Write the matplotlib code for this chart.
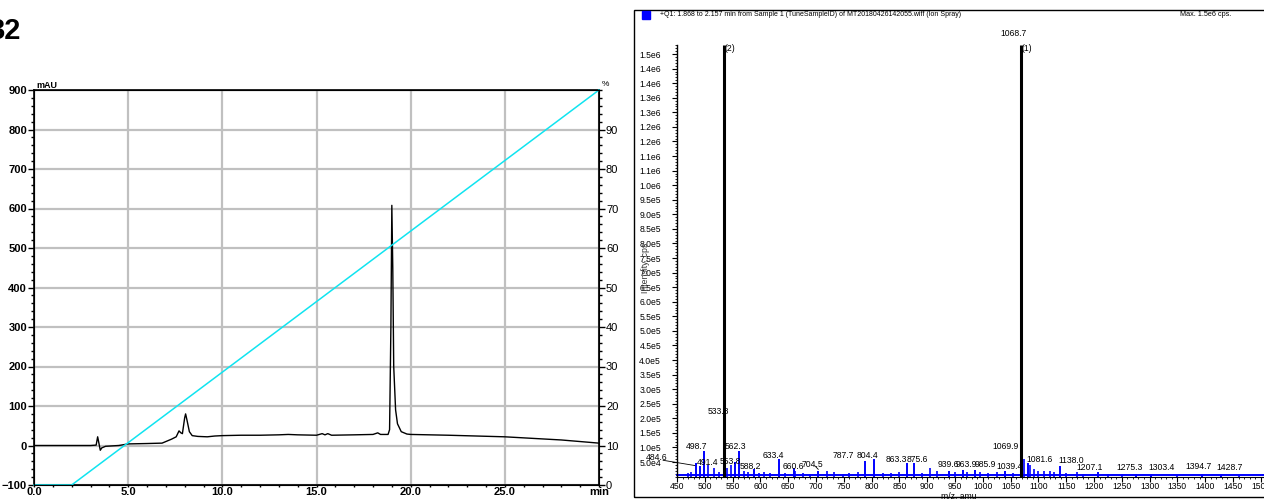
import math
import matplotlib
matplotlib.use("Agg")
import matplotlib.pyplot as plt
from matplotlib.patches import Rectangle
from matplotlib.ticker import MultipleLocator, FixedLocator, FuncFormatter

# --- HPLC trace (UV), time in min vs absorbance in mAU ---
trace_time = [0.0, 1.0, 2.0, 3.0, 3.3, 3.38, 3.45, 3.52, 3.6, 3.8, 4.5, 5.0, 6.0, 6.8,
              7.0, 7.3, 7.55, 7.7, 7.8, 7.88, 8.0, 8.05, 8.12, 8.25, 8.4, 8.7, 9.2, 9.6,
              10.0, 11.0, 12.0, 13.0, 13.5, 14.0, 15.0, 15.3, 15.45, 15.6, 15.8, 17.0,
              18.0, 18.25, 18.4, 18.8, 18.88, 18.95, 19.0, 19.05, 19.1, 19.2, 19.3, 19.5,
              19.8, 20.0, 22.0, 25.0, 28.0, 30.0]
trace_mau = [0, 0, 0, 0, 1, 22, 5, -12, -6, -2, 0, 4, 5, 6,
             10, 16, 22, 37, 32, 30, 70, 80, 65, 35, 25, 23, 22, 24,
             25, 26, 26, 27, 28, 27, 26, 30, 27, 30, 26, 27,
             28, 32, 28, 28, 40, 300, 608, 450, 200, 90, 55, 35,
             29, 28, 26, 22, 14, 6]

# solvent gradient (%B)
gradient_time = [0.0, 2.0, 30.0]
gradient_pct = [0, 0, 100]

# --- mass spectrum, labelled peaks ---
peak_mz = [484.6, 491.4, 498.7, 533.8, 553.8, 562.3, 588.2, 633.4, 660.6, 704.5,
           787.7, 804.4, 863.3, 875.6, 939.6, 963.9, 985.9, 1039.4, 1068.7, 1069.9,
           1081.6, 1138.0, 1207.1, 1275.3, 1303.4, 1394.7, 1428.7]
peak_int = [4.8e4, 3.5e4, 8.8e4, 2.1e5, 5.0e4, 8.8e4, 2.5e4, 6.2e4, 2.8e4, 2.0e4,
            5.5e4, 6.0e4, 4.7e4, 4.6e4, 2.0e4, 2.4e4, 2.2e4, 1.8e4, 1.0e6, 3.9e5,
            4.5e4, 3.5e4, 1.5e4, 9.0e3, 8.0e3, 8.0e3, 8.0e3]
# where each peak label sits (m/z, cps)
label_mz = [414, 505.8, 486, 523.7, 545.3, 554.3, 581.3, 622.7, 658.6, 692.8,
            748.6, 793.5, 843.9, 881.7, 937.4, 969.8, 1004, 1048.9, 1056, 1041.7,
            1102.9, 1158.6, 1192.8, 1264.7, 1322.3, 1388.8, 1444.6]
label_int = [6.7e4, 5.0e4, 1.02e5, 2.25e5, 5.35e4, 1.02e5, 3.3e4, 7.4e4, 3.6e4, 4.3e4,
             7.1e4, 7.1e4, 6.0e4, 5.7e4, 4.0e4, 4.0e4, 4.0e4, 3.6e4, 1.52e6, 1.02e5,
             6.0e4, 5.4e4, 3.0e4, 3.0e4, 3.0e4, 3.3e4, 3.0e4]

# unlabelled background ions
minor_mz = [470, 476, 505, 517, 525, 540, 548, 570, 578, 597, 606, 618, 645, 662, 676,
            690, 719, 733, 748, 760, 775, 820, 835, 850, 890, 905, 918, 950, 972, 995,
            1010, 1025, 1055, 1074, 1085, 1092, 1100, 1110, 1120, 1128, 1150, 1170,
            1180, 1225, 1250, 1350, 1460]
minor_int = [1.2e4, 1.5e4, 4.0e4, 3.0e4, 1.5e4, 3.0e4, 4.0e4, 2.0e4, 1.5e4, 1.2e4,
             1.5e4, 1.2e4, 1.2e4, 1.8e4, 1.2e4, 1.0e4, 1.8e4, 1.5e4, 1.0e4, 1.2e4,
             1.5e4, 1.2e4, 1.2e4, 1.5e4, 1.2e4, 3.0e4, 2.0e4, 1.5e4, 1.5e4, 1.5e4,
             1.2e4, 1.5e4, 1.2e4, 6.0e4, 4.0e4, 2.5e4, 2.0e4, 2.0e4, 2.0e4, 1.5e4,
             1.2e4, 1.5e4, 1.0e4, 1.0e4, 8.0e3, 6.0e3, 6.0e3]

# the two picked ions
marked_mz = [1068.7, 533.8]
marked_tag = ["(1)", "(2)"]

W, H = 1264, 499
fig = plt.figure(figsize=(W / 100, H / 100), dpi=100)


def px_box(x0, y0, x1, y1):
    # pixel box (top-left origin) -> figure fraction rect
    return [x0 / W, 1 - y1 / H, (x1 - x0) / W, (y1 - y0) / H]


# ---------------- chromatogram ----------------
bold = dict(family="Liberation Sans", weight="bold")
ax = fig.add_axes(px_box(34, 90, 599, 485))
ax.set_xlim(0, 30)
ax.set_ylim(-100, 900)
ax.set_axisbelow(True)
ax.grid(True, color="#c0c0c0", lw=1.6)
ax.plot(trace_time, trace_mau, color="black", lw=1.0, zorder=3)

ax.xaxis.set_major_locator(FixedLocator([0, 5, 10, 15, 20, 25, 30]))
ax.xaxis.set_major_formatter(FuncFormatter(lambda v, p: "min" if v >= 30 else f"{v:.1f}"))
ax.xaxis.set_minor_locator(MultipleLocator(1))
ax.yaxis.set_major_locator(MultipleLocator(100))
ax.yaxis.set_minor_locator(MultipleLocator(20))
ax.tick_params(which="major", direction="out", length=4, width=1, pad=1)
ax.tick_params(which="minor", direction="out", length=2, width=1)
ax.tick_params(axis="x", which="major", length=1.5, pad=0)
ax.tick_params(axis="x", which="minor", length=1.5)
for lab in ax.get_xticklabels() + ax.get_yticklabels():
    lab.set_fontproperties(bold)
    lab.set_fontsize(8)
for s in ax.spines.values():
    s.set_linewidth(1.2)

ax2 = ax.twinx()
ax2.set_ylim(0, 100)
ax2.plot(gradient_time, gradient_pct, color="#10e4f0", lw=1.1, clip_on=False)
ax2.yaxis.set_major_locator(FixedLocator(range(0, 100, 10)))
ax2.yaxis.set_minor_locator(MultipleLocator(2))
ax2.tick_params(which="major", direction="out", length=4, width=1, pad=1, labelsize=8)
ax2.tick_params(which="minor", direction="out", length=2, width=1)
for lab in ax2.get_yticklabels():
    lab.set_family("Liberation Sans")

ax.text(0.005, 1.0, "mAU", transform=ax.transAxes, fontsize=6.5, ha="left", va="bottom",
        **bold)
ax2.text(1.005, 1.005, "%", transform=ax2.transAxes, fontsize=6, ha="left", va="bottom",
         family="Liberation Sans")
fig.text(-0.009, 1 - 31 / H, "32", fontsize=21, va="center", ha="left",
         family="Liberation Sans", weight="bold")

# ---------------- mass spectrum ----------------
narrow = ["Liberation Sans Narrow", "Liberation Sans"]
fig.add_artist(Rectangle((634 / W, 1 - 497 / H), 0.6, (497 - 10) / H,
                         transform=fig.transFigure, fill=False, lw=1.0, ec="black"))
fig.add_artist(Rectangle((642 / W, 1 - 19 / H), 8 / W, 8 / H,
                         transform=fig.transFigure, color="#0000ff"))
fig.text(660 / W, 1 - 15 / H,
         "+Q1: 1.868 to 2.157 min from Sample 1 (TuneSampleID) of MT20180426142055.wiff (Ion Spray)",
         fontsize=5.0, va="center", ha="left", family=narrow)
fig.text(1180 / W, 1 - 15 / H, "Max. 1.5e6 cps.", fontsize=5.2, va="center", ha="left",
         family=narrow)

ms = fig.add_axes(px_box(677, 45, 1264, 476.6))
ms.set_xlim(450, 1505.8)
ms.set_ylim(0, 1.481e6)
for side in ("top", "right"):
    ms.spines[side].set_visible(False)
ms.spines["left"].set_linewidth(1.0)
ms.spines["bottom"].set_linewidth(0.8)

ms.plot([450, 1505.8], [4e3, 4e3], color="#0000ff", lw=1.4, clip_on=False)
ms.vlines(minor_mz, 0, minor_int, color="#0000ff", lw=1.2)
ms.vlines(peak_mz, 0, peak_int, color="#0000ff", lw=1.4)
ms.vlines(marked_mz, 0, 1.481e6, color="black", lw=2.2, zorder=4)
for mz, tag in zip(marked_mz, marked_tag):
    ms.text(mz + 1.5, 1.47e6, tag, fontsize=6.2, va="center", ha="left", family=narrow)

for mz, lx, ly in zip(peak_mz, label_mz, label_int):
    ms.text(lx, ly, f"{mz:.1f}", fontsize=6.2, va="center", ha="center", family=narrow,
            clip_on=False)
# leader lines for labels pushed off their peak
ms.plot([425, 482], [5.6e4, 3.8e4], color="black", lw=0.6, clip_on=False)
ms.plot([699, 704], [3.5e4, 2.5e4], color="black", lw=0.6)


def half_up(v, pos):
    e = int(math.floor(math.log10(v)))
    m = math.floor(v / 10 ** e * 10 + 0.5) / 10
    if m >= 10:
        m, e = m / 10, e + 1
    return f"{m:.1f}e{e}"


ms.yaxis.set_major_locator(FixedLocator([5e4 * k for k in range(1, 30)]))
ms.yaxis.set_major_formatter(FuncFormatter(half_up))
ms.yaxis.set_minor_locator(MultipleLocator(1e4))
ms.xaxis.set_major_locator(MultipleLocator(50))
ms.xaxis.set_minor_locator(MultipleLocator(10))
ms.tick_params(which="major", direction="out", length=3.5, width=0.8, pad=0.5, labelsize=6.2)
ms.tick_params(which="minor", direction="out", length=1.5, width=0.6)
ms.tick_params(axis="y", pad=8)
for lab in ms.get_xticklabels() + ms.get_yticklabels():
    lab.set_family(narrow)
ms.text(0.48, -0.035, "m/z, amu", transform=ms.transAxes, fontsize=6.2, ha="center",
        va="top", family=narrow)
fig.text(645 / W, 1 - 268 / H, "Intensity, cps", rotation=90, fontsize=6.2, ha="center",
         va="center", family=narrow, color="#333333")

fig.savefig("out.png", dpi=100)
